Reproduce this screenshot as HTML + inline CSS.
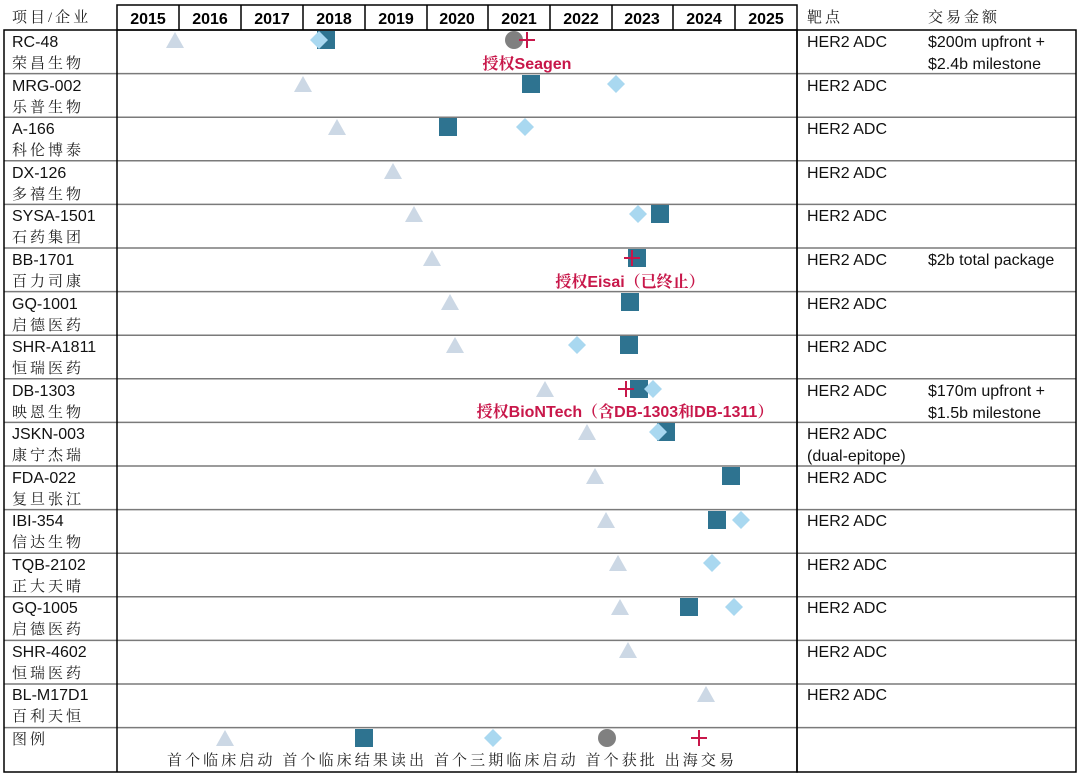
<!DOCTYPE html>
<html><head><meta charset="utf-8"><style>
html,body{margin:0;padding:0;background:#fff;}
svg{display:block;}
.l{font-family:"Liberation Sans",Arial,sans-serif;font-size:16px;fill:#111;}
.c{font-family:"Liberation Serif","Noto Serif CJK SC",serif;font-size:15px;fill:#222;letter-spacing:3px;}
.y{font-family:"Liberation Sans",Arial,sans-serif;font-size:16px;font-weight:bold;fill:#000;text-anchor:middle;}
.r{font-family:"Liberation Sans","Noto Serif CJK SC",sans-serif;font-size:16px;font-weight:bold;fill:#c8174a;text-anchor:middle;}
</style></head><body>
<svg width="1080" height="780" viewBox="0 0 1080 780" xmlns="http://www.w3.org/2000/svg">
<defs>
<polygon id="tri" points="-9,8 0,-8 9,8" fill="#ccd8e5"/>
<rect id="sq" x="-9" y="-9" width="18" height="18" fill="#2e7390"/>
<polygon id="dia" points="0,-9 9,0 0,9 -9,0" fill="#a9d8f0"/>
<circle id="cir" r="9" fill="#808080"/>
<g id="crs" stroke="#c8174a" stroke-width="2"><line x1="-8" y1="0" x2="8" y2="0"/><line x1="0" y1="-8" x2="0" y2="8"/></g>
</defs>

<text class="c" x="12" y="22">项目/企业</text>
<rect x="117" y="5" width="680" height="25" fill="none" stroke="#000" stroke-width="1.5"/>
<g stroke="#000" stroke-width="1.5">
<line x1="179" y1="5" x2="179" y2="30"/><line x1="241" y1="5" x2="241" y2="30"/><line x1="303" y1="5" x2="303" y2="30"/>
<line x1="365" y1="5" x2="365" y2="30"/><line x1="427" y1="5" x2="427" y2="30"/><line x1="488" y1="5" x2="488" y2="30"/>
<line x1="550" y1="5" x2="550" y2="30"/><line x1="612" y1="5" x2="612" y2="30"/><line x1="673" y1="5" x2="673" y2="30"/>
<line x1="735" y1="5" x2="735" y2="30"/>
</g>
<text class="y" x="148" y="24">2015</text><text class="y" x="210" y="24">2016</text><text class="y" x="272" y="24">2017</text>
<text class="y" x="334" y="24">2018</text><text class="y" x="396" y="24">2019</text><text class="y" x="457" y="24">2020</text>
<text class="y" x="519" y="24">2021</text><text class="y" x="581" y="24">2022</text><text class="y" x="642" y="24">2023</text>
<text class="y" x="704" y="24">2024</text><text class="y" x="766" y="24">2025</text>
<text class="c" x="807" y="22">靶点</text>
<text class="c" x="928" y="22">交易金额</text>

<g stroke="#7a7a7a" stroke-width="1.5">
<line x1="4" y1="73.6" x2="1076" y2="73.6"/><line x1="4" y1="117.2" x2="1076" y2="117.2"/><line x1="4" y1="160.8" x2="1076" y2="160.8"/>
<line x1="4" y1="204.4" x2="1076" y2="204.4"/><line x1="4" y1="248" x2="1076" y2="248"/><line x1="4" y1="291.6" x2="1076" y2="291.6"/>
<line x1="4" y1="335.2" x2="1076" y2="335.2"/><line x1="4" y1="378.8" x2="1076" y2="378.8"/><line x1="4" y1="422.4" x2="1076" y2="422.4"/>
<line x1="4" y1="466" x2="1076" y2="466"/><line x1="4" y1="509.6" x2="1076" y2="509.6"/><line x1="4" y1="553.2" x2="1076" y2="553.2"/>
<line x1="4" y1="596.8" x2="1076" y2="596.8"/><line x1="4" y1="640.4" x2="1076" y2="640.4"/><line x1="4" y1="684" x2="1076" y2="684"/>
<line x1="4" y1="727.6" x2="1076" y2="727.6"/>
</g>
<g stroke="#000" stroke-width="1.5" fill="none">
<rect x="4" y="30" width="793" height="742"/>
<rect x="797" y="30" width="279" height="742"/>
<line x1="117" y1="30" x2="117" y2="772"/>
</g>

<g class="l">
<text x="12" y="47">RC-48</text><text x="12" y="91">MRG-002</text><text x="12" y="134">A-166</text>
<text x="12" y="178">DX-126</text><text x="12" y="221">SYSA-1501</text><text x="12" y="265">BB-1701</text>
<text x="12" y="309">GQ-1001</text><text x="12" y="352">SHR-A1811</text><text x="12" y="396">DB-1303</text>
<text x="12" y="439">JSKN-003</text><text x="12" y="483">FDA-022</text><text x="12" y="526">IBI-354</text>
<text x="12" y="570">TQB-2102</text><text x="12" y="613">GQ-1005</text><text x="12" y="657">SHR-4602</text>
<text x="12" y="700">BL-M17D1</text>
</g>
<g class="c">
<text x="12" y="68">荣昌生物</text><text x="12" y="112">乐普生物</text><text x="12" y="155">科伦博泰</text>
<text x="12" y="199">多禧生物</text><text x="12" y="242">石药集团</text><text x="12" y="286">百力司康</text>
<text x="12" y="330">启德医药</text><text x="12" y="373">恒瑞医药</text><text x="12" y="417">映恩生物</text>
<text x="12" y="460">康宁杰瑞</text><text x="12" y="504">复旦张江</text><text x="12" y="547">信达生物</text>
<text x="12" y="591">正大天晴</text><text x="12" y="634">启德医药</text><text x="12" y="678">恒瑞医药</text>
<text x="12" y="721">百利天恒</text><text x="12" y="744">图例</text>
</g>

<g class="l">
<text x="807" y="47">HER2 ADC</text><text x="807" y="91">HER2 ADC</text><text x="807" y="134">HER2 ADC</text>
<text x="807" y="178">HER2 ADC</text><text x="807" y="221">HER2 ADC</text><text x="807" y="265">HER2 ADC</text>
<text x="807" y="309">HER2 ADC</text><text x="807" y="352">HER2 ADC</text><text x="807" y="396">HER2 ADC</text>
<text x="807" y="439">HER2 ADC</text><text x="807" y="461">(dual-epitope)</text>
<text x="807" y="483">HER2 ADC</text><text x="807" y="526">HER2 ADC</text>
<text x="807" y="570">HER2 ADC</text><text x="807" y="613">HER2 ADC</text><text x="807" y="657">HER2 ADC</text>
<text x="807" y="700">HER2 ADC</text>
<text x="928" y="47">$200m upfront +</text><text x="928" y="69">$2.4b milestone</text>
<text x="928" y="265">$2b total package</text>
<text x="928" y="396">$170m upfront +</text><text x="928" y="418">$1.5b milestone</text>
</g>

<use href="#tri" x="175" y="40"/><use href="#sq" x="326" y="40"/><use href="#dia" x="319" y="40"/><use href="#cir" x="514" y="40"/><use href="#crs" x="527" y="40"/>
<text class="r" x="527" y="69">授权Seagen</text>
<use href="#tri" x="303" y="84"/><use href="#sq" x="531" y="84"/><use href="#dia" x="616" y="84"/>
<use href="#tri" x="337" y="127"/><use href="#sq" x="448" y="127"/><use href="#dia" x="525" y="127"/>
<use href="#tri" x="393" y="171"/>
<use href="#tri" x="414" y="214"/><use href="#sq" x="660" y="214"/><use href="#dia" x="638" y="214"/>
<use href="#tri" x="432" y="258"/><use href="#sq" x="637" y="258"/><use href="#crs" x="632" y="258"/>
<text class="r" x="630" y="287">授权Eisai（已终止）</text>
<use href="#tri" x="450" y="302"/><use href="#sq" x="630" y="302"/>
<use href="#tri" x="455" y="345"/><use href="#dia" x="577" y="345"/><use href="#sq" x="629" y="345"/>
<use href="#tri" x="545" y="389"/><use href="#sq" x="639" y="389"/><use href="#dia" x="653" y="389"/><use href="#crs" x="626" y="389"/>
<text class="r" x="625" y="417">授权BioNTech（含DB-1303和DB-1311）</text>
<use href="#tri" x="587" y="432"/><use href="#sq" x="666" y="432"/><use href="#dia" x="658" y="432"/>
<use href="#tri" x="595" y="476"/><use href="#sq" x="731" y="476"/>
<use href="#tri" x="606" y="520"/><use href="#sq" x="717" y="520"/><use href="#dia" x="741" y="520"/>
<use href="#tri" x="618" y="563"/><use href="#dia" x="712" y="563"/>
<use href="#tri" x="620" y="607"/><use href="#sq" x="689" y="607"/><use href="#dia" x="734" y="607"/>
<use href="#tri" x="628" y="650"/>
<use href="#tri" x="706" y="694"/>
<use href="#tri" x="225" y="738"/><use href="#sq" x="364" y="738"/><use href="#dia" x="493" y="738"/><use href="#cir" x="607" y="738"/><use href="#crs" x="699" y="738"/>
<text class="c" x="167" y="765" textLength="568" lengthAdjust="spacing" style="letter-spacing:1px">首个临床启动 首个临床结果读出 首个三期临床启动 首个获批 出海交易</text>
</svg>
</body></html>
